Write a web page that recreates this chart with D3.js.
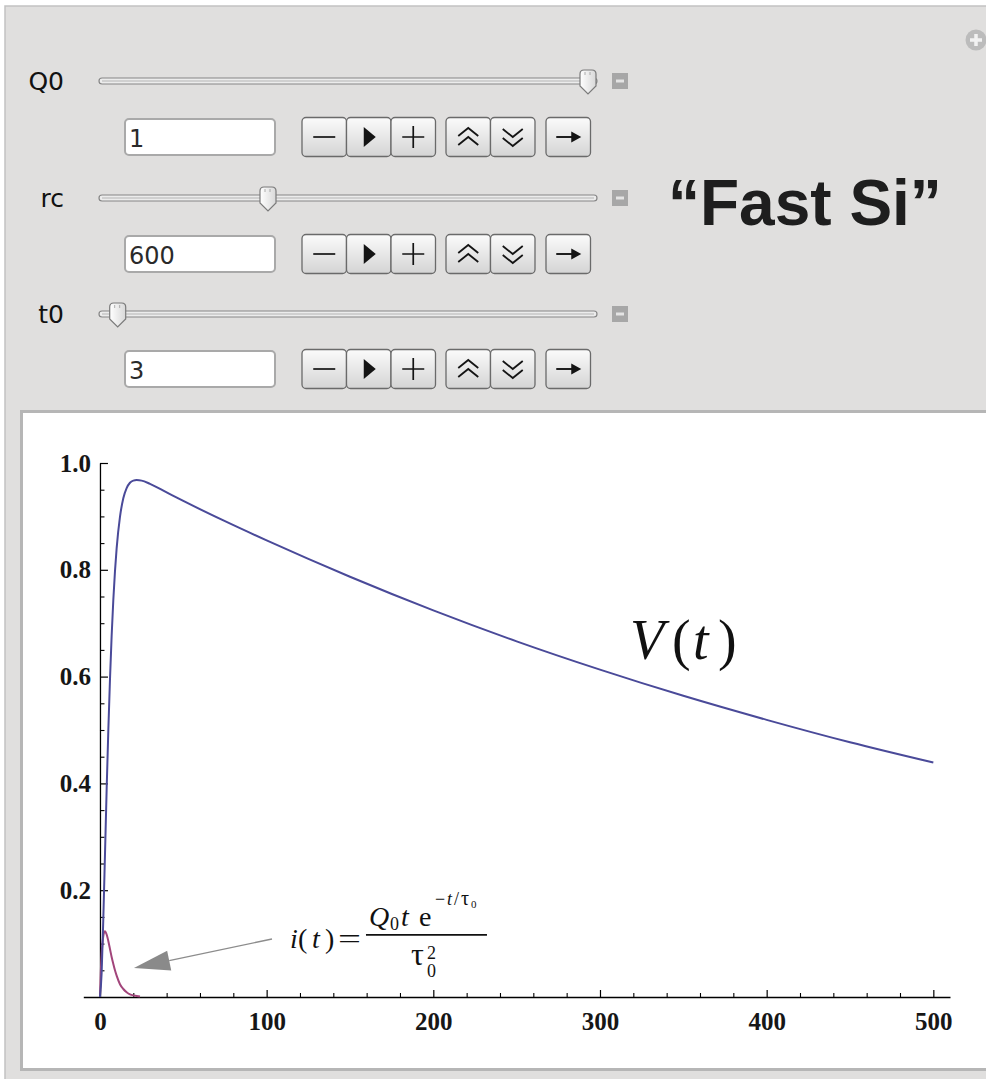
<!DOCTYPE html>
<html>
<head>
<meta charset="utf-8">
<script src="https://cdn.jsdelivr.net/npm/d3@7"></script>
<style>
  html, body { margin: 0; padding: 0; background: #ffffff; }
  svg { display: block; }
</style>
</head>
<body>
<svg id="chart" width="986" height="1079"></svg>
<script>
// ---- control panel values ----
const controlNames = ["Q0", "rc", "t0"];
const controlValues = [1, 600, 3];
const controlMin = [0, 0, 1];
const controlMax = [1, 1800, 100];

// ---- V(t): integrated response ----
const timeV = [0, 1, 2, 3, 4, 5, 6, 7, 8, 9, 10, 12, 14, 16, 18, 20, 22, 25, 30, 40, 50, 75, 100, 150, 200, 250, 300, 350, 400, 450, 500];
const voltage = [0, 0.045, 0.146, 0.266, 0.388, 0.498, 0.594, 0.676, 0.743, 0.797, 0.840, 0.899, 0.934, 0.953, 0.963, 0.967, 0.968, 0.967, 0.961, 0.945, 0.929, 0.891, 0.855, 0.787, 0.724, 0.666, 0.613, 0.564, 0.519, 0.477, 0.439];

// ---- i(t): current pulse ----
const timeI = [0, 0.5, 1, 1.5, 2, 2.5, 3, 4, 5, 6, 7, 8, 9, 10, 12, 14, 16, 18, 20, 22, 24];
const current = [0, 0.047, 0.080, 0.101, 0.114, 0.121, 0.123, 0.117, 0.105, 0.090, 0.075, 0.062, 0.050, 0.040, 0.024, 0.015, 0.009, 0.005, 0.003, 0.002, 0.001];

// ---- axes ----
const xTicks = [0, 100, 200, 300, 400, 500];
const yTicks = [0.2, 0.4, 0.6, 0.8, 1.0];
const xDomain = [-10, 510];
const yDomain = [0, 1];

const svg = d3.select("#chart");
const uiFont = "'DejaVu Sans', sans-serif";
const serif = "'Liberation Serif', 'Times New Roman', serif";

// ================= panel background =================
svg.append("rect").attr("x", 5).attr("y", 6).attr("width", 1000).attr("height", 1090)
  .attr("fill", "#e0dfde").attr("stroke", "#c2c2c2").attr("stroke-width", 1.5);

// plus icon in the corner
const plus = svg.append("g").attr("transform", "translate(976,40)");
plus.append("circle").attr("r", 10.5).attr("fill", "#bcbcbc");
plus.append("path").attr("d", "M-6,0H6M0,-6V6").attr("stroke", "#f2f2f2").attr("stroke-width", 3.5);

// gradients
const defs = svg.append("defs");
const bg = defs.append("linearGradient").attr("id", "btnGrad").attr("x1", 0).attr("y1", 0).attr("x2", 0).attr("y2", 1);
bg.append("stop").attr("offset", "0%").attr("stop-color", "#fbfbfb");
bg.append("stop").attr("offset", "100%").attr("stop-color", "#d4d4d4");
const tg = defs.append("linearGradient").attr("id", "thumbGrad").attr("x1", 0).attr("y1", 0).attr("x2", 1).attr("y2", 0);
tg.append("stop").attr("offset", "0%").attr("stop-color", "#ffffff");
tg.append("stop").attr("offset", "100%").attr("stop-color", "#d8d8d8");

// ================= controls =================
const sliderY = [81, 198, 314];
const inputY = [137, 254, 369];
const trackX0 = 99, trackX1 = 597;

const buttonGroups = [
  { x: 302, kinds: ["minus", "play", "plus"] },
  { x: 446, kinds: ["up", "down"] },
  { x: 546, kinds: ["go"] }
];
const btnW = 44.5, btnH = 39;

function drawGlyph(g, kind) {
  const s = "#141414";
  if (kind === "minus") {
    g.append("path").attr("d", "M-11,0H11").attr("stroke", s).attr("stroke-width", 1.7);
  } else if (kind === "plus") {
    g.append("path").attr("d", "M-11,0H11M0,-11V11").attr("stroke", s).attr("stroke-width", 1.7);
  } else if (kind === "play") {
    g.append("path").attr("d", "M-5,-10L7,0L-5,10Z").attr("fill", s);
  } else if (kind === "up") {
    g.append("path").attr("d", "M-10,-1L0,-9L10,-1M-10,8L0,0L10,8")
      .attr("fill", "none").attr("stroke", s).attr("stroke-width", 1.8);
  } else if (kind === "down") {
    g.append("path").attr("d", "M-10,-8L0,0L10,-8M-10,1L0,9L10,1")
      .attr("fill", "none").attr("stroke", s).attr("stroke-width", 1.8);
  } else if (kind === "go") {
    g.append("path").attr("d", "M-12,0H6").attr("stroke", s).attr("stroke-width", 1.9);
    g.append("path").attr("d", "M13,0L3,-5.5L3,5.5Z").attr("fill", s);
  }
}

controlNames.forEach((name, i) => {
  const sy = sliderY[i], iy = inputY[i];
  // label
  svg.append("text").attr("x", 64).attr("y", sy + 9).attr("text-anchor", "end")
    .attr("font-family", uiFont).attr("font-size", 25).attr("fill", "#111").text(name);
  // track
  svg.append("rect").attr("x", trackX0).attr("y", sy - 3).attr("width", trackX1 - trackX0).attr("height", 6)
    .attr("rx", 3).attr("fill", "#ececec").attr("stroke", "#868686").attr("stroke-width", 1.2);
  svg.append("line").attr("x1", trackX0 + 3).attr("x2", trackX1 - 3).attr("y1", sy).attr("y2", sy)
    .attr("stroke", "#b4b4b4").attr("stroke-width", 1);
  // thumb
  const pos = d3.scaleLinear().domain([controlMin[i], controlMax[i]]).range([108, 588]);
  const th = svg.append("g").attr("transform", `translate(${pos(controlValues[i])},${sy})`);
  th.append("path").attr("d", "M-8,-7Q-8,-11 -4,-11L4,-11Q8,-11 8,-7L8,5L0,13L-8,5Z")
    .attr("fill", "url(#thumbGrad)").attr("stroke", "#7a7a7a").attr("stroke-width", 1.2);
  th.append("path").attr("d", "M-3,-9V-6M2,-9V-6").attr("stroke", "#9a9a9a").attr("stroke-width", 0.8);
  // collapse box
  svg.append("rect").attr("x", 612).attr("y", sy - 8).attr("width", 16).attr("height", 16).attr("fill", "#a7a7a7");
  svg.append("rect").attr("x", 616).attr("y", sy - 1.5).attr("width", 8).attr("height", 3).attr("fill", "#e4e4e4");

  // input field
  svg.append("rect").attr("x", 125).attr("y", iy - 18).attr("width", 150).attr("height", 36)
    .attr("rx", 4).attr("fill", "#ffffff").attr("stroke", "#a9a9a9").attr("stroke-width", 2);
  svg.append("text").attr("x", 129).attr("y", iy + 9.5)
    .attr("font-family", uiFont).attr("font-size", 24).attr("fill", "#2a2a2a").text(String(controlValues[i]));

  // buttons
  buttonGroups.forEach(grp => {
    grp.kinds.forEach((k, j) => {
      const bx = grp.x + j * btnW;
      svg.append("rect").attr("x", bx).attr("y", iy - btnH / 2).attr("width", btnW).attr("height", btnH)
        .attr("rx", 4).attr("fill", "url(#btnGrad)").attr("stroke", "#6a6a6a").attr("stroke-width", 1.3);
      drawGlyph(svg.append("g").attr("transform", `translate(${bx + btnW / 2},${iy})`), k);
    });
  });
});

// title
svg.append("text").attr("x", 668).attr("y", 225)
  .attr("font-family", "'Liberation Sans', Arial, sans-serif").attr("font-weight", "bold")
  .attr("font-size", 64).attr("fill", "#1e1e1e").text("\u201CFast Si\u201D");

// ================= plot frame =================
svg.append("rect").attr("x", 21.5).attr("y", 411.5).attr("width", 990).attr("height", 658)
  .attr("fill", "#ffffff").attr("stroke", "#b6b6b6").attr("stroke-width", 3);

const x = d3.scaleLinear().domain(xDomain).range([83.3, 950]);
const y = d3.scaleLinear().domain(yDomain).range([997, 463]);

const plot = svg.append("g");

// minor ticks
const xMinor = d3.range(20, 510, 20).filter(v => v % 100 !== 0);
plot.append("g").attr("transform", `translate(0,${y(0)})`)
  .call(d3.axisBottom(x).tickValues(xMinor).tickSize(-4).tickFormat(""))
  .call(g => g.select(".domain").remove())
  .call(g => g.selectAll("line").attr("stroke", "#000").attr("stroke-width", 1.1));
const yMinor = d3.range(0.05, 1.0, 0.05).filter(v => Math.abs(v * 5 - Math.round(v * 5)) > 1e-6);
plot.append("g").attr("transform", `translate(${x(0)},0)`)
  .call(d3.axisLeft(y).tickValues(yMinor).tickSize(-4.5).tickFormat(""))
  .call(g => g.select(".domain").remove())
  .call(g => g.selectAll("line").attr("stroke", "#000").attr("stroke-width", 1.1));

// major axes
const xAxisG = plot.append("g").attr("transform", `translate(0,${y(0)})`)
  .call(d3.axisBottom(x).tickValues(xTicks).tickSize(-7).tickSizeOuter(0).tickPadding(15).tickFormat(d3.format("d")));
const yAxisG = plot.append("g").attr("transform", `translate(${x(0)},0)`)
  .call(d3.axisLeft(y).tickValues(yTicks).tickSize(-8).tickSizeOuter(0).tickPadding(9).tickFormat(d3.format(".1f")));
[xAxisG, yAxisG].forEach(g => {
  g.select(".domain").attr("stroke", "#000").attr("stroke-width", 1.3);
  g.selectAll("line").attr("stroke", "#000").attr("stroke-width", 1.2);
  g.selectAll("text").attr("font-family", serif).attr("font-weight", "bold")
    .attr("font-size", 25).attr("fill", "#161616");
});

// curves
const line = d3.line().x(d => x(d[0])).y(d => y(d[1])).curve(d3.curveMonotoneX);
plot.append("path").datum(timeI.map((t, k) => [t, current[k]]))
  .attr("d", line).attr("fill", "none").attr("stroke", "#a2457b").attr("stroke-width", 2);
plot.append("path").datum(timeV.map((t, k) => [t, voltage[k]]))
  .attr("d", line).attr("fill", "none").attr("stroke", "#4a4a99").attr("stroke-width", 2);

// ================= annotations =================
// V(t)
const vx = x(318), vy = y(0.633);
const vLab = svg.append("text").attr("font-family", serif).attr("font-size", 56).attr("fill", "#111");
vLab.append("tspan").attr("x", vx).attr("y", vy).attr("font-style", "italic").text("V");
vLab.append("tspan").attr("x", vx + 42).attr("y", vy).text("(");
vLab.append("tspan").attr("x", vx + 63).attr("y", vy).attr("font-style", "italic").text("t");
vLab.append("tspan").attr("x", vx + 88).attr("y", vy).text(")");

// arrow pointing to the current pulse
const aStart = [x(103.2), y(0.1086)], aTip = [x(20.4), y(0.0543)];
const dx = aTip[0] - aStart[0], dy = aTip[1] - aStart[1], len = Math.hypot(dx, dy);
const ux = dx / len, uy = dy / len, nx = -uy, ny = ux;
const headL = 36, headW = 10;
const bxC = aTip[0] - ux * headL, byC = aTip[1] - uy * headL;
svg.append("line").attr("x1", aStart[0]).attr("y1", aStart[1]).attr("x2", bxC).attr("y2", byC)
  .attr("stroke", "#8c8c8c").attr("stroke-width", 1.3);
svg.append("path")
  .attr("d", `M${aTip[0]},${aTip[1]}L${bxC + nx * headW},${byC + ny * headW}L${bxC - nx * headW},${byC - ny * headW}Z`)
  .attr("fill", "#8a8a8a");

// i(t) = Q0 t e^{-t/tau0} / tau0^2
const fx = x(114), fy = y(0.092);
const f = svg.append("g").attr("transform", `translate(${fx},${fy})`)
  .attr("font-family", serif).attr("fill", "#111");
const lhs = f.append("text").attr("font-size", 28);
lhs.append("tspan").attr("x", 0).attr("y", 0).attr("font-style", "italic").text("i");
lhs.append("tspan").attr("x", 8).attr("y", 0).text("(");
lhs.append("tspan").attr("x", 22).attr("y", 0).attr("font-style", "italic").text("t");
lhs.append("tspan").attr("x", 35).attr("y", 0).text(")");
f.append("text").attr("x", 48).attr("y", 0).attr("font-size", 28)
  .attr("textLength", 23).attr("lengthAdjust", "spacingAndGlyphs").text("=");
f.append("line").attr("x1", 76).attr("x2", 197).attr("y1", -13).attr("y2", -13)
  .attr("stroke", "#111").attr("stroke-width", 1.6);
// numerator
const num = f.append("text").attr("font-size", 28);
num.append("tspan").attr("x", 79).attr("y", -22).attr("font-style", "italic").text("Q");
num.append("tspan").attr("x", 100).attr("y", -18).attr("font-size", 18).text("0");
num.append("tspan").attr("x", 111).attr("y", -22).attr("font-style", "italic").text("t");
num.append("tspan").attr("x", 129).attr("y", -22).text("e");
num.append("tspan").attr("x", 145).attr("y", -43).attr("font-size", 18).text("\u2212");
num.append("tspan").attr("x", 157).attr("y", -43).attr("font-size", 18).attr("font-style", "italic").text("t");
num.append("tspan").attr("x", 164).attr("y", -43).attr("font-size", 18).text("/");
num.append("tspan").attr("x", 171).attr("y", -43).attr("font-size", 20).text("\u03C4");
num.append("tspan").attr("x", 181).attr("y", -40).attr("font-size", 11).text("0");
// denominator
const den = f.append("text").attr("font-size", 32);
den.append("tspan").attr("x", 121).attr("y", 17).text("\u03C4");
den.append("tspan").attr("x", 137).attr("y", 11).attr("font-size", 18).text("2");
den.append("tspan").attr("x", 137).attr("y", 29).attr("font-size", 18).text("0");
</script>
</body>
</html>
